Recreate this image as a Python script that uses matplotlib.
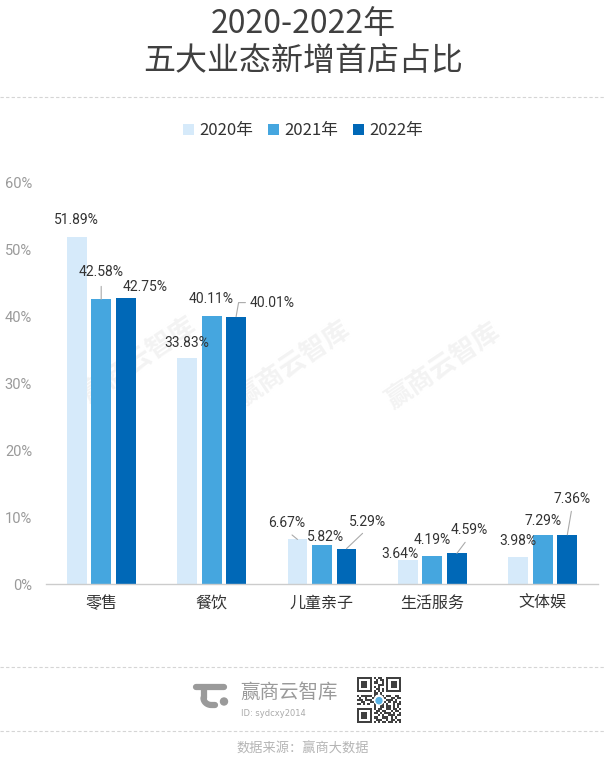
import matplotlib
matplotlib.use("Agg")
import matplotlib.pyplot as plt
import numpy as np
from matplotlib.patches import Circle

plt.rcParams['font.family'] = ['Roboto', 'Noto Sans CJK SC', 'DejaVu Sans']

# ---------------- data ----------------
categories = ['零售', '餐饮', '儿童亲子', '生活服务', '文体娱']
series_names = ['2020年', '2021年', '2022年']
v2020 = [51.89, 33.83, 6.67, 3.64, 3.98]
v2021 = [42.58, 40.11, 5.82, 4.19, 7.29]
v2022 = [42.75, 40.01, 5.29, 4.59, 7.36]
yticks = [0, 10, 20, 30, 40, 50, 60]
colors = ['#D6EAFA', '#45A6DF', '#0068B7']

# label offsets (pixels, text centre relative to bar top) and leader type
label_layout = [
    [(0, 17, None), (0, 27, 'v'), (19, 11, None)],
    [(0, 15, None), (0, 17, None), (36, 14, 'angle')],
    [(-11, 16, 'line'), (4, 8, None), (21, 27, 'line')],
    [(-8, 6, None), (0, 16, None), (12, 23, 'line')],
    [(0, 16, None), (0, 14, None), (5, 36, 'line')],
]

W, H = 606, 766
fig = plt.figure(figsize=(W / 100, H / 100), dpi=100)
fig.patch.set_facecolor('white')

# overlay (decorations in pixel coordinates, behind chart)
ov = fig.add_axes([0, 0, 1, 1], zorder=0)
ov.set_xlim(0, W)
ov.set_ylim(H, 0)
ov.axis('off')

ax = fig.add_axes([46 / W, 1 - 584 / H, 552 / W, (584 - 183) / H], zorder=1)
ax.patch.set_alpha(0)

# watermarks
for (cx, cy) in [(139, 361), (293, 365), (443, 367)]:
    ov.text(cx, cy, '赢商云智库', fontsize=19, color='#f3f3f3', rotation=34,
            ha='center', va='center', family=['Noto Sans CJK SC'], fontweight='bold')

x = np.arange(len(categories))
bw = 0.18
off = 0.222
all_vals = [v2020, v2021, v2022]
for j, (vals, name, col) in enumerate(zip(all_vals, series_names, colors)):
    xs = x + (j - 1) * off
    ax.bar(xs, vals, width=bw, color=col, label=name, zorder=2)
    for i, v in enumerate(vals):
        dx, dy, lead = label_layout[i][j]
        kw = {}
        if lead == 'line':
            kw['arrowprops'] = dict(arrowstyle='-', color='#aaaaaa', lw=0.8,
                                    shrinkA=2, shrinkB=0, relpos=(0.5, 0))
        elif lead == 'v':
            kw['arrowprops'] = dict(arrowstyle='-', color='#aaaaaa', lw=0.8,
                                    shrinkA=3, shrinkB=0, relpos=(0.5, 0))
        elif lead == 'angle':
            kw['arrowprops'] = dict(arrowstyle='-', color='#aaaaaa', lw=0.8,
                                    shrinkA=1, shrinkB=0, relpos=(0, 0.5),
                                    connectionstyle='angle,angleA=180,angleB=80,rad=0')
        ax.annotate(f'{v:.2f}%', xy=(xs[i], v), xytext=(dx, dy),
                    textcoords='offset pixels', ha='center', va='center',
                    fontsize=10, color='#333333', family=['Roboto'], zorder=3, **kw)

ax.set_xlim(-0.5, 4.5)
ax.set_ylim(0, 60)
ax.set_yticks(yticks)
ax.set_yticklabels([f'{t}%' for t in yticks], family=['Roboto'], fontsize=10.5, color='#9a9a9a')
ax.set_xticks(x)
ax.set_xticklabels(categories, family=['Noto Sans CJK SC'], fontsize=11.5, color='#333333')
ax.tick_params(axis='y', length=0, pad=10)
ax.tick_params(axis='x', length=0, pad=8)
for s in ['top', 'right', 'left']:
    ax.spines[s].set_visible(False)
ax.spines['bottom'].set_color('#cccccc')
ax.spines['bottom'].set_linewidth(1)

# title
for txt, yy in [('2020-2022年', 24), ('五大业态新增首店占比', 61)]:
    ov.text(W / 2, yy, txt, ha='center', va='center', fontsize=23, color='#404040',
            family=['Noto Sans CJK SC'], fontweight='medium')

# dashed separators
for yy in [97, 667, 731]:
    ov.plot([0, W], [yy, yy], color='#d5d5d5', lw=0.8, ls=(0, (3, 2)))

# legend
fig.legend(loc='center', bbox_to_anchor=(0.5, 1 - 131 / H), ncol=3, frameon=False,
           prop={'family': ['Noto Sans CJK SC'], 'size': 12},
           handlelength=0.66, handleheight=0.66, handletextpad=0.36, columnspacing=0.84,
           labelcolor='#333333')

# footer logo
ov.plot([196, 224], [686.5, 686.5], color='#9a9a9a', lw=4.5, solid_capstyle='round')
ov.plot([203.5, 203.5], [690, 698], color='#9a9a9a', lw=4.5, solid_capstyle='round')
ang = np.linspace(np.pi, np.pi / 2, 20)
ov.plot(211.5 + 8 * np.cos(ang), 698 + 7 * np.sin(ang), color='#9a9a9a', lw=4.5,
        solid_capstyle='round')
ov.plot([211.5, 215], [705, 705], color='#9a9a9a', lw=4.5, solid_capstyle='round')
ov.add_patch(Circle((224, 701.5), 3.5, color='#9a9a9a'))
ov.text(240, 692, '赢商云智库', ha='left', va='center', fontsize=14, color='#9a9a9a',
        family=['Noto Sans CJK SC'])
ov.text(241, 713, 'ID: sydcxy2014', ha='left', va='center', fontsize=6, color='#aaaaaa',
        family=['DejaVu Sans'])

# QR code (decorative)
qr_rows = [
    "111111101011001111111",
    "100000100101101000001",
    "101110101100101011101",
    "101110100011101011101",
    "101110101010001011101",
    "100000100110101000001",
    "111111101010101111111",
    "000000001101000000000",
    "101111101001101100110",
    "010010011010110011011",
    "111011100101001110100",
    "001100110110010101101",
    "110101001011101001011",
    "000000001001101101010",
    "111111101011001101101",
    "100000100110110010110",
    "101110101101011101001",
    "101110100010100111011",
    "101110101100111010100",
    "100000100111001011011",
    "111111101010110110101",
]
qr = np.array([[int(c) for c in r] for r in qr_rows])
qax = fig.add_axes([357 / W, 1 - 723 / H, 44 / W, 46 / H], zorder=2)
qax.imshow(qr, cmap='Greys', vmin=0, vmax=1.25, interpolation='nearest', aspect='auto')
qax.add_patch(Circle((10, 10), 2.2, color='white'))
qax.add_patch(Circle((10, 10.3), 1.4, color='#5ab4e6'))
qax.axis('off')

# source
ov.text(W / 2, 749, '数据来源：赢商大数据', ha='center', va='center', fontsize=9.5,
        color='#b5b5b5', family=['Noto Sans CJK SC'])

fig.savefig('out.png', dpi=100, facecolor='white')
